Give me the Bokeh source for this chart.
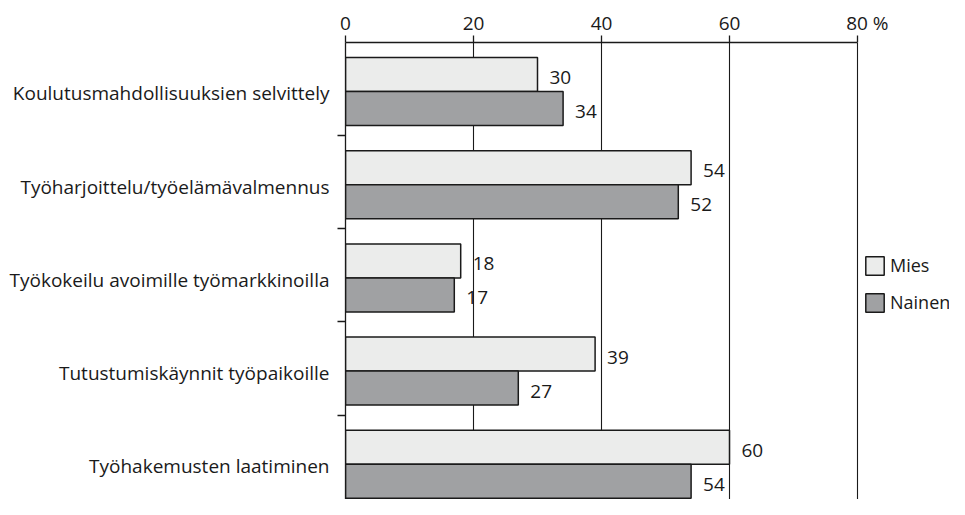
from bokeh.plotting import figure
from bokeh.models import (Range1d, FixedTicker, LinearAxis, Legend, LegendItem,
                          ColumnDataSource)
from bokeh.core.properties import value
from bokeh.embed import file_html
from bokeh.resources import INLINE

categories = ["Koulutusmahdollisuuksien selvittely",
              "Työharjoittelu/työelämävalmennus",
              "Työkokeilu avoimille työmarkkinoilla",
              "Tutustumiskäynnit työpaikoille",
              "Työhakemusten laatiminen"]
mies = [30, 54, 18, 39, 60]
nainen = [34, 52, 17, 27, 54]
x_ticks = [0, 20, 40, 60, 80]
unit_label = "%"
series_names = ["Mies", "Nainen"]

FONT = "Open Sans"
FS = "19px"
C_MIES = "#ebeceb"
C_NAINEN = "#a0a1a3"
BAR_H = 0.3648
INK = "#1a1a1a"
Y_TOP, Y_BOT = -0.5258, 4.378
X_MAX = 80

idx = list(range(len(categories)))

p = figure(width=949, height=499, output_backend="svg", toolbar_location=None,
           x_range=Range1d(0, 94.375), y_range=Range1d(Y_BOT, Y_TOP),
           x_axis_location=None, y_axis_location=None,
           min_border_left=345, min_border_right=0, min_border_top=42,
           min_border_bottom=0)
p.outline_line_color = None
p.background_fill_color = "white"
p.border_fill_color = "white"

# top axis (bounded to 0..80), last label carries the unit
xaxis = LinearAxis(ticker=FixedTicker(ticks=x_ticks), bounds=(0, X_MAX))
NB = "\u00a0"
xaxis.major_label_overrides = {X_MAX: NB * 4 + str(X_MAX) + NB + unit_label}
xaxis.axis_line_color = INK
xaxis.axis_line_width = 1.3
xaxis.major_tick_line_color = INK
xaxis.major_tick_line_width = 1.3
xaxis.major_tick_out = 7
xaxis.major_tick_in = 0
xaxis.minor_tick_out = 0
xaxis.minor_tick_in = 0
xaxis.major_label_standoff = 0
xaxis.major_label_text_font = FONT
xaxis.major_label_text_font_size = FS
xaxis.major_label_text_color = INK
p.add_layout(xaxis, "above")

# left axis
yaxis = LinearAxis(ticker=FixedTicker(ticks=[i + 0.02 for i in idx],
                                      minor_ticks=[i + 0.472 for i in idx[:-1]]))
yaxis.major_label_overrides = {i + 0.02: c for i, c in zip(idx, categories)}
yaxis.axis_line_color = INK
yaxis.axis_line_width = 1.3
yaxis.major_tick_out = 0
yaxis.major_tick_in = 0
yaxis.major_tick_line_color = None
yaxis.minor_tick_out = 8
yaxis.minor_tick_in = 0
yaxis.minor_tick_line_color = INK
yaxis.minor_tick_line_width = 1.3
yaxis.major_label_standoff = 8
yaxis.major_label_text_font = FONT
yaxis.major_label_text_font_size = FS
yaxis.major_label_text_color = INK
p.add_layout(yaxis, "left")

p.xgrid.visible = False
p.ygrid.visible = False
grid_src = ColumnDataSource(dict(x=x_ticks[1:]))
p.segment(x0="x", x1="x", y0=Y_TOP, y1=Y_BOT, source=grid_src,
          line_color=INK, line_width=1.1)

src = ColumnDataSource(dict(
    y_m=[i - BAR_H / 2 for i in idx],
    y_n=[i + BAR_H / 2 for i in idx],
    mies=mies, nainen=nainen,
    lm=[str(v) for v in mies], ln=[str(v) for v in nainen]))

r_m = p.hbar(y="y_m", right="mies", left=0, height=BAR_H, source=src,
             fill_color=C_MIES, line_color=INK, line_width=1.5)
r_n = p.hbar(y="y_n", right="nainen", left=0, height=BAR_H, source=src,
             fill_color=C_NAINEN, line_color=INK, line_width=1.5)

p.text(x="mies", y="y_m", text="lm", source=src, x_offset=12, y_offset=3,
       text_font=value(FONT), text_font_size=FS, text_baseline="middle",
       text_align="left", text_color=INK)
p.text(x="nainen", y="y_n", text="ln", source=src, x_offset=12, y_offset=3,
       text_font=value(FONT), text_font_size=FS, text_baseline="middle",
       text_align="left", text_color=INK)

legend = Legend(items=[LegendItem(label=series_names[0], renderers=[r_m]),
                       LegendItem(label=series_names[1], renderers=[r_n])],
                location=(518, 185))
legend.border_line_color = None
legend.background_fill_color = None
legend.background_fill_alpha = 0
legend.margin = 0
legend.padding = 0
legend.glyph_width = 23
legend.glyph_height = 23
legend.spacing = 13
legend.label_standoff = 4
legend.label_height = 18
legend.label_text_font = FONT
legend.label_text_font_size = "18px"
legend.label_text_color = INK
legend.label_text_baseline = "middle"
p.add_layout(legend)

open("out.html", "w").write(file_html(p, INLINE))
